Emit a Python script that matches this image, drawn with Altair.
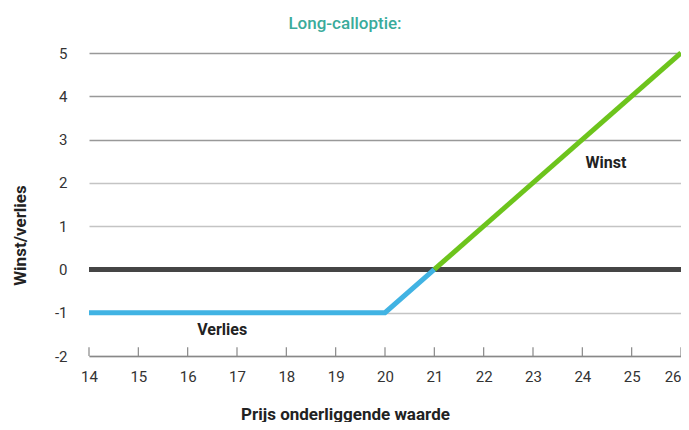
import altair as alt
import pandas as pd

# Data
loss_x = [14, 20, 21]
loss_y = [-1, -1, 0]
gain_x = [21, 26]
gain_y = [0, 5]
x_ticks = [14, 15, 16, 17, 18, 19, 20, 21, 22, 23, 24, 25, 26]
y_ticks = [-2, -1, 0, 1, 2, 3, 4, 5]
label_text = ["Winst", "Verlies"]
label_x = [24.48, 16.7]
label_y = [2.45, -1.39]

FONT = "Roboto, sans-serif"

loss = pd.DataFrame({"x": loss_x, "y": loss_y})
gain = pd.DataFrame({"x": gain_x, "y": gain_y})
ticks = pd.DataFrame({"x": x_ticks, "y": [-2] * len(x_ticks), "y2": [-1.8] * len(x_ticks)})
labels = pd.DataFrame({"t": label_text, "x": label_x, "y": label_y})
zero = pd.DataFrame({"x": [14], "x2": [26], "y": [0]})

xs = alt.Scale(domain=[14, 26], nice=False)
ys = alt.Scale(domain=[-2, 5], nice=False)

xaxis = alt.Axis(values=x_ticks, ticks=False, grid=False, domain=True, domainColor="#888",
                 domainWidth=1.5, labelPadding=13, labelFontSize=15, labelColor="#333",
                 labelFont=FONT, labelFlush=False, labelExpr="'' + datum.value",
                 labelAlign={"condition": {"test": "datum.value == 26", "value": "right"}, "value": "center"},
                 title="Prijs onderliggende waarde", titleFont=FONT,
                 titleFontSize=17, titleFontWeight="bold", titleColor="#222",
                 titleX=256, titleY=50, titleBaseline="top")
yaxis = alt.Axis(values=y_ticks, ticks=False, domain=False, grid=True,
                 gridColor={"condition": {"test": "datum.value >= 3", "value": "#999"}, "value": "#c4c4c4"},
                 gridWidth=1.5, labelPadding=22, labelFontSize=15, labelColor="#333",
                 labelFont=FONT, labelExpr="'' + datum.value",
                 title="Winst/verlies", titleFont=FONT, titleFontSize=17,
                 titleFontWeight="bold", titleColor="#222", titleX=-69, titleY=182,
                 titleBaseline="middle")

base_axes = alt.Chart(ticks).mark_rule(strokeWidth=1.2, color="#888").encode(
    x=alt.X("x:Q", scale=xs, axis=xaxis),
    y=alt.Y("y:Q", scale=ys, axis=yaxis),
    y2="y2:Q",
)

zero_line = alt.Chart(zero).mark_rule(strokeWidth=5, color="#454545").encode(
    x=alt.X("x:Q", scale=xs), x2="x2:Q", y=alt.Y("y:Q", scale=ys)
)

loss_line = alt.Chart(loss).mark_line(strokeWidth=5, color="#41b3e3").encode(
    x=alt.X("x:Q", scale=xs), y=alt.Y("y:Q", scale=ys)
)
gain_line = alt.Chart(gain).mark_line(strokeWidth=5, color="#6dc41c").encode(
    x=alt.X("x:Q", scale=xs), y=alt.Y("y:Q", scale=ys)
)

text = alt.Chart(labels).mark_text(font=FONT, fontSize=16, fontWeight="bold", color="#222").encode(
    x=alt.X("x:Q", scale=xs), y=alt.Y("y:Q", scale=ys), text="t:N"
)

chart = alt.layer(base_axes, zero_line, loss_line, gain_line, text).properties(
    width=592, height=303,
    title=alt.TitleParams("Long-calloptie:", font=FONT, fontSize=17, fontWeight=500,
                          color="#3aab9b", anchor="middle", dx=-40, offset=10),
    padding={"left": 81, "top": 45, "right": 0, "bottom": 66},
    autosize=alt.AutoSizeParams(type="none"),
).configure_view(stroke=None)

chart.save("out.html", embed_options={"renderer": "svg", "actions": False})
